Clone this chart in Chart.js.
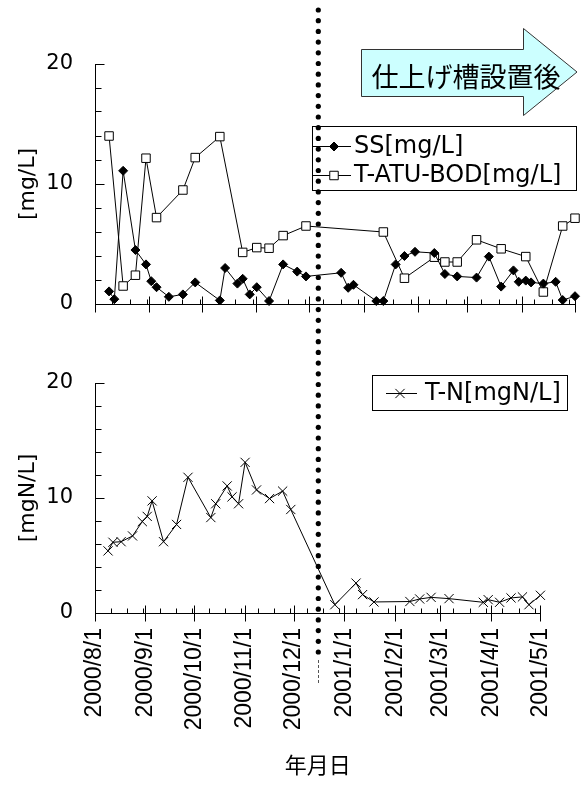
<!DOCTYPE html>
<html><head><meta charset="utf-8">
<script src="https://cdn.jsdelivr.net/npm/chart.js@4.4.0/dist/chart.umd.min.js"></script>
<style>
html,body{margin:0;padding:0;background:#fff;}
#wrap{position:relative;width:583px;height:807px;overflow:hidden;background:#fff;}
canvas{position:absolute;left:0;}
#c1{top:0;}
#c2{top:340px;}
</style></head><body>
<div id="wrap"><canvas id="c1" width="583" height="340"></canvas><canvas id="c2" width="583" height="467"></canvas></div>
<script>
// ---------------- data ----------------
const tickLabels = ['2000/8/1','2000/9/1','2000/10/1','2000/11/1','2000/12/1','2001/1/1','2001/2/1','2001/3/1','2001/4/1','2001/5/1'];

const ssDates = ['2000/8/9','2000/8/12','2000/8/17','2000/8/24','2000/8/30','2000/9/2','2000/9/5','2000/9/12','2000/9/20','2000/9/27','2000/10/11','2000/10/14','2000/10/21','2000/10/24','2000/10/28','2000/11/1','2000/11/8','2000/11/16','2000/11/24','2000/11/29','2000/12/19','2000/12/23','2000/12/26','2001/1/8','2001/1/12','2001/1/19','2001/1/24','2001/1/30','2001/2/10','2001/2/16','2001/2/23','2001/3/6','2001/3/13','2001/3/20','2001/3/27','2001/3/30','2001/4/3','2001/4/6','2001/4/13','2001/4/20','2001/4/24','2001/5/1'];
const ssValues = [1.05,0.4,11.1,4.5,3.3,1.9,1.4,0.6,0.8,1.8,0.3,3.0,1.7,2.1,0.8,1.4,0.25,3.3,2.7,2.3,2.6,1.35,1.6,0.25,0.25,3.3,4.0,4.35,4.25,2.5,2.3,2.2,3.95,1.45,2.8,1.85,1.95,1.8,1.7,1.85,0.33,0.65];

const bodDates = ['2000/8/9','2000/8/17','2000/8/24','2000/8/30','2000/9/5','2000/9/20','2000/9/27','2000/10/11','2000/10/24','2000/11/1','2000/11/8','2000/11/16','2000/11/29','2001/1/12','2001/1/24','2001/2/10','2001/2/16','2001/2/23','2001/3/6','2001/3/20','2001/4/3','2001/4/13','2001/4/24','2001/5/1'];
const bodValues = [14.0,1.5,2.4,12.15,7.2,9.5,12.2,13.95,4.3,4.7,4.65,5.7,6.5,6.0,2.15,3.9,3.5,3.5,5.35,4.6,3.95,1.0,6.5,7.15];

const tnDates = ['2000/8/9','2000/8/12','2000/8/17','2000/8/24','2000/8/30','2000/9/2','2000/9/5','2000/9/12','2000/9/20','2000/9/27','2000/10/11','2000/10/14','2000/10/21','2000/10/24','2000/10/28','2000/11/1','2000/11/8','2000/11/16','2000/11/24','2000/11/29','2000/12/26','2001/1/8','2001/1/12','2001/1/19','2001/2/10','2001/2/16','2001/2/23','2001/3/6','2001/3/27','2001/3/30','2001/4/6','2001/4/13','2001/4/20','2001/4/24','2001/5/1'];
const tnValues = [5.4,6.15,6.2,6.7,7.95,8.4,9.75,6.2,7.7,11.8,8.3,9.5,11.05,10.1,9.5,13.1,10.7,9.95,10.6,9.0,0.72,2.6,1.6,0.96,1.0,1.22,1.36,1.25,0.93,1.16,0.93,1.31,1.4,0.72,1.54];

const seriesLabels = ['SS[mg/L]','T-ATU-BOD[mg/L]','T-N[mgN/L]'];
const yTitleTop = '[mg/L]';
const yTitleBottom = '[mgN/L]';
const xTitle = '年月日';
const arrowText = '仕上げ槽設置後';
const dividerDate = '2000/12/6';

// ---------------- helpers ----------------
const ORIGIN = Date.UTC(2000,7,1);
function dayOf(s){const p=s.split('/').map(Number);return (Date.UTC(p[0],p[1]-1,p[2])-ORIGIN)/86400000;}
function pts(dates, vals){return dates.map((d,i)=>({x:dayOf(d), y:vals[i]}));}
const monthTicks = tickLabels.map(dayOf);
const xMin = monthTicks[0], xMax = monthTicks[monthTicks.length-1];

Chart.defaults.color = '#000';
Chart.defaults.font.family = 'DejaVu Sans';

let dividerX = null;

function drawTicks(chart){
  const ctx = chart.ctx, xs = chart.scales.x, ys = chart.scales.y, a = chart.chartArea;
  const L = Math.floor(a.left)+0.5, B = Math.floor(a.bottom)+0.5;
  ctx.save(); ctx.strokeStyle='#000'; ctx.lineWidth=1; ctx.beginPath();
  for (let v = ys.min; v <= ys.max; v += 2) {
    const y = Math.floor(ys.getPixelForValue(v))+0.5;
    const len = (v % 10 === 0) ? 9 : 6;
    ctx.moveTo(L, y); ctx.lineTo(L+len, y);
  }
  for (let d = xMin; d < xMax; d += 10) {
    const x = Math.floor(xs.getPixelForValue(d))+0.5;
    ctx.moveTo(x, B); ctx.lineTo(x, B-5);
  }
  monthTicks.forEach(d => {
    const x = Math.floor(xs.getPixelForValue(d))+0.5;
    ctx.moveTo(x, B-8); ctx.lineTo(x, B+8);
  });
  ctx.stroke(); ctx.restore();
}

function drawLegend(chart, cfg){
  const ctx = chart.ctx;
  ctx.save();
  ctx.fillStyle='#fff'; ctx.fillRect(cfg.box[0], cfg.box[1], cfg.box[2], cfg.box[3]);
  ctx.strokeStyle='#000'; ctx.lineWidth=1;
  ctx.strokeRect(cfg.box[0]+0.5, cfg.box[1]+0.5, cfg.box[2], cfg.box[3]);
  chart.data.datasets.forEach((ds, i) => {
    const y = cfg.rows[i];
    ctx.strokeStyle='#000'; ctx.lineWidth=1;
    ctx.beginPath(); ctx.moveTo(cfg.line[0], y+0.5); ctx.lineTo(cfg.line[1], y+0.5); ctx.stroke();
    ctx.fillStyle = ds.pointBackgroundColor; ctx.strokeStyle = ds.pointBorderColor; ctx.lineWidth = 1;
    Chart.helpers.drawPoint(ctx, {pointStyle: ds.pointStyle, radius: ds.pointRadius, rotation:0, borderWidth:1}, cfg.mark, y+0.5);
    ctx.fillStyle='#000'; ctx.font = cfg.font; ctx.textBaseline='middle'; ctx.textAlign='left';
    ctx.fillText(ds.label, cfg.text, y+1);
  });
  ctx.restore();
}

function drawDivider(chart, canvasTop){
  const ctx = chart.ctx, h = chart.height;
  const x = dividerX;
  ctx.save(); ctx.fillStyle='#000';
  for (let gy = 10; gy <= 655; gy += 10.7) {
    const y = gy - canvasTop;
    if (y < -4 || y > h + 4) continue;
    ctx.beginPath(); ctx.arc(x, y, 2.6, 0, Math.PI*2); ctx.fill();
  }
  const y0 = 660 - canvasTop, y1 = 684 - canvasTop;
  if (y1 > 0 && y0 < h) {
    ctx.strokeStyle='#555'; ctx.lineWidth=1; ctx.setLineDash([3,2]);
    ctx.beginPath(); ctx.moveTo(Math.round(x)+0.5, y0); ctx.lineTo(Math.round(x)+0.5, y1); ctx.stroke();
  }
  ctx.restore();
}

function drawArrow(chart){
  const ctx = chart.ctx;
  ctx.save();
  ctx.beginPath();
  ctx.moveTo(361.5, 49.5); ctx.lineTo(523.5, 49.5); ctx.lineTo(523.5, 28.5); ctx.lineTo(577, 72);
  ctx.lineTo(523.5, 115.5); ctx.lineTo(523.5, 96.5); ctx.lineTo(361.5, 96.5); ctx.closePath();
  ctx.fillStyle='#CCFFFF'; ctx.fill();
  ctx.strokeStyle='#333'; ctx.lineWidth=1; ctx.stroke();
  ctx.fillStyle='#000'; ctx.font='27px "Noto Sans CJK JP"'; ctx.textAlign='center'; ctx.textBaseline='middle';
  ctx.fillText(arrowText, 466, 77);
  ctx.restore();
}

const topPlugin = {
  id:'topDeco',
  afterDraw(chart){
    drawTicks(chart);
    drawArrow(chart);
    drawLegend(chart, {box:[312,126,264,64], rows:[146,175], line:[313,351], mark:334, text:354, font:'24px "DejaVu Sans"'});
    dividerX = chart.scales.x.getPixelForValue(dayOf(dividerDate));
    drawDivider(chart, 0);
  }
};
const bottomPlugin = {
  id:'bottomDeco',
  afterDraw(chart){
    drawTicks(chart);
    drawLegend(chart, {box:[372,375-340,195,35], rows:[393-340], line:[386,417], mark:400, text:425, font:'24px "DejaVu Sans"'});
    drawDivider(chart, 340);
  }
};

const yTickFont = {family:'DejaVu Sans', size:21};
const titleFont = {family:'DejaVu Sans', size:22};

new Chart(document.getElementById('c1'), {
  type:'line',
  data:{datasets:[
    {label:seriesLabels[0], data:pts(ssDates, ssValues), borderColor:'#000', borderWidth:1, pointStyle:'rectRot', pointRadius:4.5, pointBackgroundColor:'#000', pointBorderColor:'#000', pointBorderWidth:1, tension:0, clip:false},
    {label:seriesLabels[1], data:pts(bodDates, bodValues), borderColor:'#000', borderWidth:1, pointStyle:'rect', pointRadius:6, pointBackgroundColor:'#fff', pointBorderColor:'#000', pointBorderWidth:1, tension:0, clip:false}
  ]},
  options:{
    responsive:false, animation:false, events:[],
    layout:{padding:{top:64, right:8, left:0, bottom:0}},
    plugins:{legend:{display:false}, tooltip:{enabled:false}},
    scales:{
      x:{type:'linear', min:xMin, max:xMax, grid:{display:false, drawTicks:false}, border:{display:true, color:'#000', width:1}, ticks:{display:false}, afterFit:s=>{s.height=36;}},
      y:{min:0, max:20, ticks:{stepSize:10, font:yTickFont, color:'#000', padding:22}, grid:{display:false, drawTicks:false}, border:{display:true, color:'#000', width:1},
         title:{display:true, text:yTitleTop, font:titleFont, color:'#000', padding:{top:15, bottom:0}}, afterFit:s=>{s.width=95;}}
    }
  },
  plugins:[topPlugin]
});

new Chart(document.getElementById('c2'), {
  type:'line',
  data:{datasets:[
    {label:seriesLabels[2], data:pts(tnDates, tnValues), borderColor:'#000', borderWidth:1, pointStyle:'crossRot', pointRadius:6.5, pointBackgroundColor:'#000', pointBorderColor:'#000', pointBorderWidth:1, tension:0, clip:false}
  ]},
  options:{
    responsive:false, animation:false, events:[],
    layout:{padding:{top:43, right:27, left:0, bottom:0}},
    plugins:{legend:{display:false}, tooltip:{enabled:false}},
    scales:{
      x:{type:'linear', min:xMin, max:xMax, grid:{display:false, drawTicks:false}, border:{display:true, color:'#000', width:1},
         afterBuildTicks:s=>{s.ticks = monthTicks.map(v=>({value:v}));},
         ticks:{autoSkip:false, minRotation:90, maxRotation:90, padding:15, font:{family:'Liberation Sans', size:23}, color:'#000',
                callback:(v)=>tickLabels[monthTicks.indexOf(v)]},
         title:{display:true, text:xTitle, font:{family:'Noto Sans CJK JP', size:22}, color:'#000', padding:{top:0, bottom:29}},
         afterFit:s=>{s.height=194;}},
      y:{min:0, max:20, ticks:{stepSize:10, font:yTickFont, color:'#000', padding:22}, grid:{display:false, drawTicks:false}, border:{display:true, color:'#000', width:1},
         title:{display:true, text:yTitleBottom, font:titleFont, color:'#000', padding:{top:15, bottom:0}}, afterFit:s=>{s.width=95;}}
    }
  },
  plugins:[bottomPlugin]
});
</script>
</body></html>
